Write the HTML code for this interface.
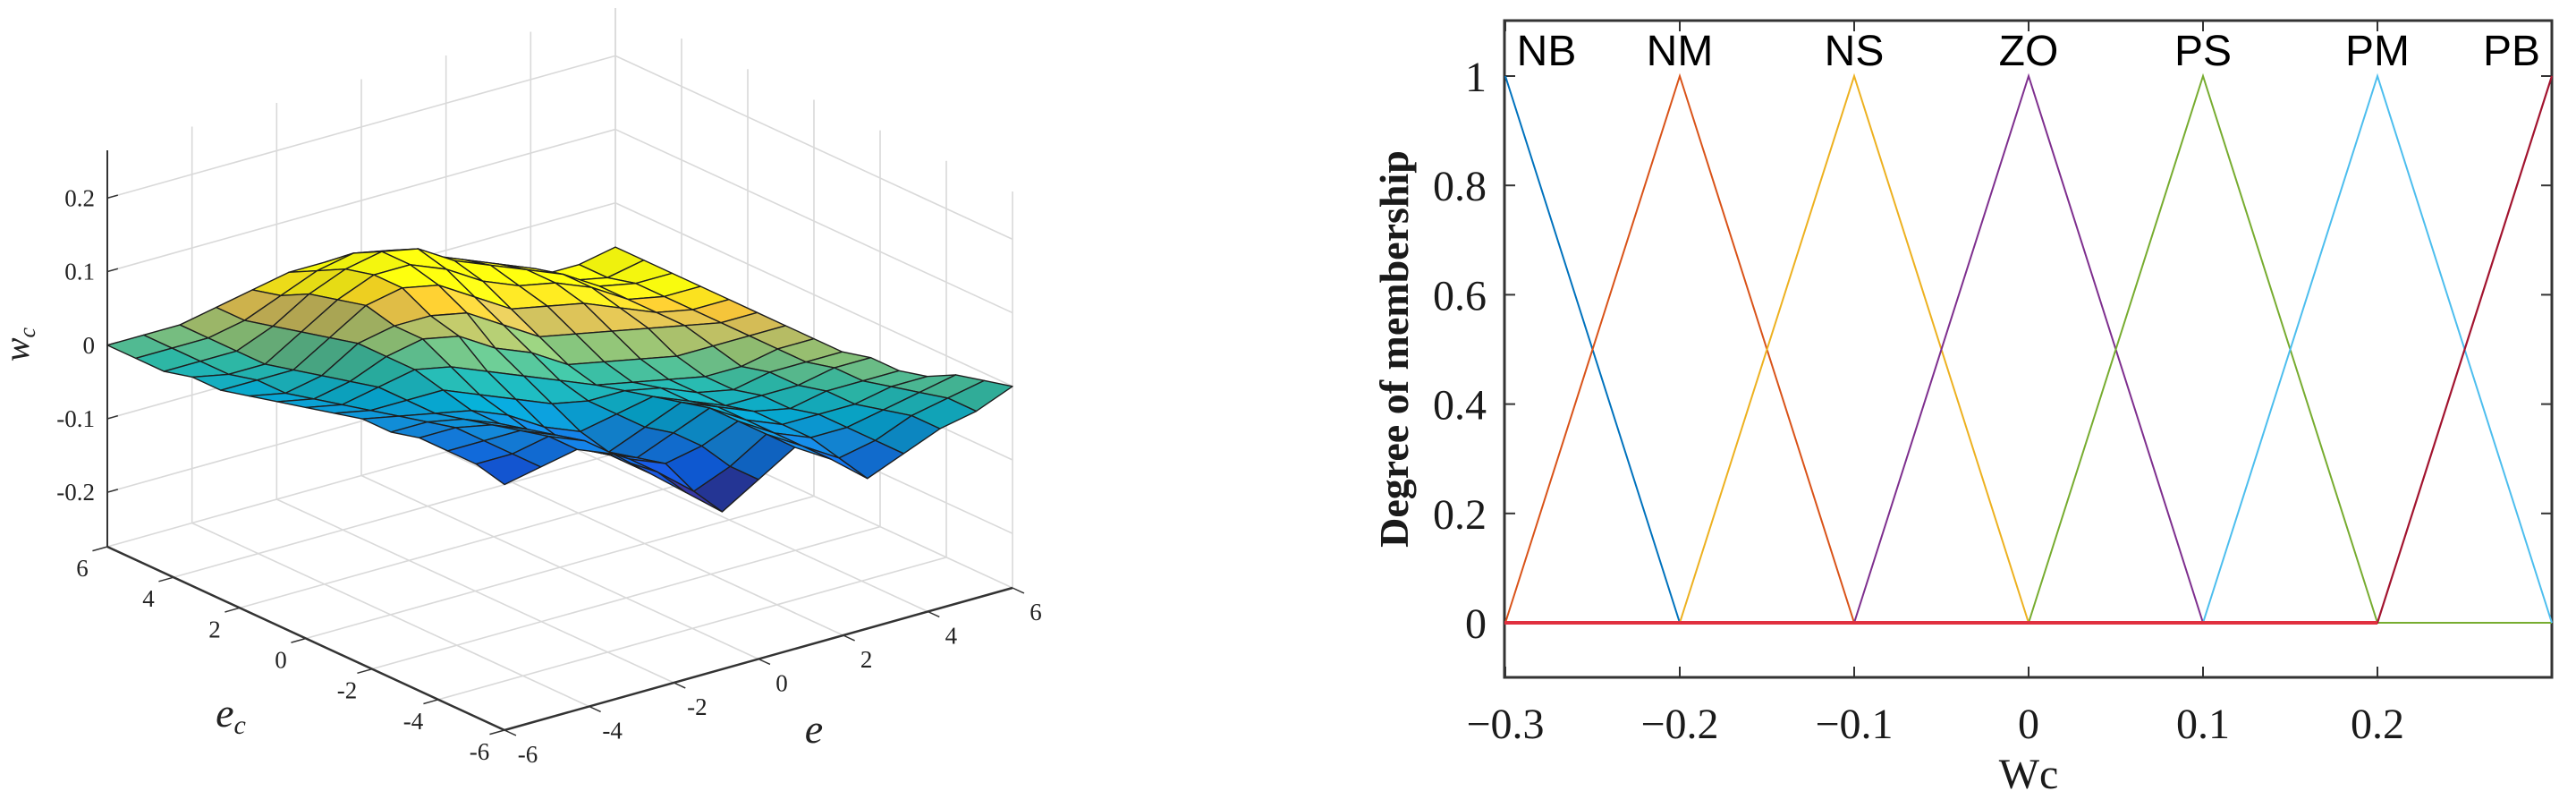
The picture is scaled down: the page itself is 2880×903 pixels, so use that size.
<!DOCTYPE html>
<html><head><meta charset="utf-8"><style>
html,body{margin:0;padding:0;background:#fff;}
svg{display:block;}
</style></head><body>
<svg id="root" width="2880" height="903" viewBox="0 0 2880 903" xmlns="http://www.w3.org/2000/svg">
<g id="surf3d"></g>
<g id="mf"></g>
</svg>
<script>
// ---------- 3D surface data ----------
const eTicks = [-6,-4,-2,0,2,4,6];
const ecTicks = [-6,-4,-2,0,2,4,6];
const zTicks = [-0.2,-0.1,0,0.1,0.2];
const zTickLabels = ["-0.2","-0.1","0","0.1","0.2"];
// rows: ec index 0 (ec=-6) .. 14 (ec=6); columns: e index 0 (e=-6) .. 14 (e=6)
const zRows = [
[0.06,0.07,0.08,0.06,0.02,-0.02,-0.06,-0.03,0.00,-0.03,-0.07,-0.05,-0.03,-0.02,0.00],
[0.07,0.07,0.08,0.06,0.02,-0.01,-0.05,-0.03,0.00,-0.03,-0.06,-0.05,-0.03,-0.02,-0.01],
[0.07,0.07,0.07,0.05,0.02,-0.01,-0.03,-0.02,0.00,-0.03,-0.05,-0.05,-0.04,-0.03,-0.02],
[0.07,0.07,0.06,0.04,0.01,-0.02,-0.04,-0.02,0.00,-0.03,-0.05,-0.05,-0.05,-0.04,-0.04],
[0.06,0.06,0.05,0.03,0.00,-0.03,-0.05,-0.03,-0.01,-0.03,-0.05,-0.06,-0.05,-0.05,-0.05],
[0.06,0.05,0.04,0.03,0.01,-0.02,-0.04,-0.03,-0.02,-0.04,-0.06,-0.06,-0.06,-0.05,-0.05],
[0.05,0.04,0.04,0.04,0.02,0.00,-0.02,-0.03,-0.03,-0.04,-0.06,-0.07,-0.06,-0.06,-0.06],
[0.04,0.03,0.04,0.05,0.04,0.02,0.00,-0.02,-0.04,-0.05,-0.06,-0.07,-0.07,-0.06,-0.06],
[0.03,0.02,0.03,0.05,0.06,0.05,0.02,0.00,-0.03,-0.04,-0.05,-0.06,-0.06,-0.06,-0.06],
[0.02,0.01,0.02,0.05,0.06,0.06,0.05,0.02,-0.01,-0.02,-0.03,-0.04,-0.05,-0.06,-0.06],
[0.01,0.01,0.01,0.04,0.07,0.08,0.07,0.04,0.01,0.00,-0.01,-0.03,-0.05,-0.06,-0.06],
[0.01,0.00,0.00,0.03,0.06,0.08,0.08,0.06,0.03,0.01,0.00,-0.02,-0.05,-0.06,-0.06],
[0.00,0.00,0.00,0.02,0.05,0.07,0.08,0.07,0.04,0.02,0.00,-0.02,-0.05,-0.06,-0.06],
[0.00,0.00,0.00,0.01,0.03,0.05,0.06,0.05,0.03,0.01,-0.01,-0.03,-0.06,-0.07,-0.06],
[0.00,0.00,0.00,0.01,0.02,0.03,0.03,0.02,0.01,-0.01,-0.03,-0.05,-0.07,-0.07,-0.06]
];
// ---------- membership data ----------
const mfNames = ["NB","NM","NS","ZO","PS","PM","PB"];
const mfCenters = [-0.3,-0.2,-0.1,0,0.1,0.2,0.3];
const mfWidth = 0.1;
const mfColors = ["#0072BD","#D95319","#EDB120","#7E2F8E","#77AC30","#4DBEEE","#A2142F"];
const xTickVals = [-0.3,-0.2,-0.1,0,0.1,0.2];
const xTickLabels = ["\u22120.3","\u22120.2","\u22120.1","0","0.1","0.2"];
const yTickVals = [0,0.2,0.4,0.6,0.8,1];
const yTickLabels = ["0","0.2","0.4","0.6","0.8","1"];

const NS="http://www.w3.org/2000/svg";
function mk(tag, attrs, parent){const el=document.createElementNS(NS,tag);for(const k in attrs)el.setAttribute(k,attrs[k]);parent.appendChild(el);return el;}

// ---------- 3D projection ----------
const F0=[564,816], ZF=-0.274, ZT=0.265, ZS=822;
const dE=[(1132-564)/12,(657-816)/12], dC=[(120-564)/12,(611-816)/12];
function P(e,ec,z){return [F0[0]+(e+6)*dE[0]+(ec+6)*dC[0], F0[1]+(e+6)*dE[1]+(ec+6)*dC[1]-(z-ZF)*ZS];}
function line3(g,a,b,col,w,name){const p=P(...a),q=P(...b);
 const l=mk('line',{x1:p[0],y1:p[1],x2:q[0],y2:q[1],stroke:col,'stroke-width':w},g);
 
 }
const g3=document.getElementById('surf3d');
const grid='#d9d9d9';
eTicks.forEach(e=>{line3(g3,[e,6,ZF],[e,6,ZT],grid,1.6,'wall-gridline');line3(g3,[e,-6,ZF],[e,6,ZF],grid,1.6,'floor-gridline');});
ecTicks.forEach(c=>{line3(g3,[6,c,ZF],[6,c,ZT],grid,1.6,'wall-gridline');line3(g3,[-6,c,ZF],[6,c,ZF],grid,1.6,'floor-gridline');});
zTicks.forEach(z=>{line3(g3,[-6,6,z],[6,6,z],grid,1.6,'wall-gridline');line3(g3,[6,6,z],[6,-6,z],grid,1.6,'wall-gridline');});
line3(g3,[-6,6,ZF],[-6,6,ZT],'#333',2,'z-axis-line');
line3(g3,[-6,6,ZF],[-6,-6,ZF],'#333',2.5,'ec-axis-line');
line3(g3,[-6,-6,ZF],[6,-6,ZF],'#333',2.5,'e-axis-line');
function txt(g,x,y,s,attrs,name){const t=mk('text',Object.assign({x:x,y:y},attrs),g);t.textContent=s;
 
 return t;}
const tf={'font-family':'"Liberation Serif",serif','font-size':27,fill:'#222'};
zTicks.forEach((z,k)=>{const p=P(-6,6,z);line3(g3,[-6,6,z],[-5.75,6,z],'#333',1.5,'z-tick');
 txt(g3,p[0]-14,p[1]+9,zTickLabels[k],Object.assign({'text-anchor':'end'},tf),'z-tick-label');});
ecTicks.forEach(c=>{const p=P(-6,c,ZF);line3(g3,[-6,c,ZF],[-6.35,c,ZF],'#333',1.5,'ec-tick');
 txt(g3,p[0]-28,p[1]+33,String(c),Object.assign({'text-anchor':'middle'},tf),'ec-tick-label');});
eTicks.forEach(e=>{const p=P(e,-6,ZF);line3(g3,[e,-6,ZF],[e,-6.35,ZF],'#333',1.5,'e-tick');
 txt(g3,p[0]+26,p[1]+36,String(e),Object.assign({'text-anchor':'middle'},tf),'e-tick-label');});
const it={'font-family':'"Liberation Serif",serif','font-style':'italic','font-size':46,fill:'#222','text-anchor':'middle'};
const ecT=txt(g3,258,812,'e',it,'ec-axis-title');const sub=mk('tspan',{'font-size':30,dy:8},ecT);sub.textContent='c';
txt(g3,910,830,'e',it,'e-axis-title');
const wT=txt(g3,0,0,'w',Object.assign({},it,{'font-size':40,transform:'translate(32,385) rotate(-90)'}),'z-axis-title');
const ws=mk('tspan',{'font-size':26,dy:7},wT);ws.textContent='c';
const par=[[0,[53,42,135]],[0.14,[15,92,221]],[0.28,[20,129,214]],[0.42,[6,164,202]],[0.56,[46,183,164]],[0.7,[135,191,119]],[0.84,[209,187,89]],[0.92,[254,200,50]],[1,[249,251,14]]];
function cmap(t,s){t=Math.max(0,Math.min(1,t));let c=[249,251,14];for(let k=1;k<par.length;k++){if(t<=par[k][0]){const a=par[k-1],b=par[k],f=(t-a[0])/(b[0]-a[0]);c=a[1].map((v,m)=>v+(b[1][m]-v)*f);break;}}
 return 'rgb('+c.map(v=>Math.round(Math.max(0,Math.min(255,v*s)))).join(',')+')';}
const N=zRows.length, gv=i=>-6+i*12/(N-1);
const cells=[];
for(let j=0;j<N-1;j++)for(let i=0;i<N-1;i++)cells.push([i,j]);
cells.sort((a,b)=>(b[0]+b[1])-(a[0]+a[1]));
const sg=mk('g',{},g3);


cells.forEach(([i,j])=>{
 const pts=[[i,j],[i+1,j],[i+1,j+1],[i,j+1]];
 let zs=0;const sp=pts.map(([a,b])=>{zs+=zRows[b][a];return P(gv(a),gv(b),zRows[b][a]).join(',');});
 const zm=zs/4, cv=zm+0.015*(i+j+1-14);
 const slope=(zRows[j][i]+zRows[j+1][i])-(zRows[j][i+1]+zRows[j+1][i+1]);
 const shade=1+Math.max(-0.12,Math.min(0.12,slope*2));
 const poly=mk('polygon',{points:sp.join(' '),fill:cmap((cv+0.16)/0.26,shade),stroke:'#1e1e1e','stroke-width':1.4,'stroke-linejoin':'round'},sg);
 
 
});

// ---------- membership plot ----------
const gm=document.getElementById('mf');
const X0=1682,X1=2853,Y0=23,Y1=757;
const xs=v=>2268+v*1950, ys=m=>696-m*611;
const box=mk('rect',{x:X0,y:Y0,width:X1-X0,height:Y1-Y0,fill:'none',stroke:'#333','stroke-width':3},gm);


const sf={'font-family':'"Liberation Serif",serif','font-size':48,fill:'#1a1a1a'};
xTickVals.forEach((v,k)=>{const x=xs(v);
 const t1=mk('line',{x1:x,y1:Y1,x2:x,y2:Y1-12,stroke:'#333','stroke-width':2},gm);
 
 
 const t2=mk('line',{x1:x,y1:Y0,x2:x,y2:Y0+12,stroke:'#333','stroke-width':2},gm);
 
 
 txt(gm,x,825,xTickLabels[k],Object.assign({'text-anchor':'middle'},sf),'x-tick-label');});
yTickVals.forEach((v,k)=>{const y=ys(v);
 const t1=mk('line',{x1:X0,y1:y,x2:X0+12,y2:y,stroke:'#333','stroke-width':2},gm);
 
 
 const t2=mk('line',{x1:X1,y1:y,x2:X1-12,y2:y,stroke:'#333','stroke-width':2},gm);
 
 
 txt(gm,1662,y+17,yTickLabels[k],Object.assign({'text-anchor':'end'},sf),'y-tick-label');});
txt(gm,2268,881,'Wc',Object.assign({'text-anchor':'middle'},sf),'x-axis-title');
txt(gm,0,0,'Degree of membership',Object.assign({'text-anchor':'middle','font-weight':'bold',transform:'translate(1574,390) rotate(-90)'},sf,{'font-size':46}),'y-axis-title');
const xmin=-0.3,xmax=0.3;
mfCenters.forEach((c,k)=>{
 const pts=[];const l=c-mfWidth,r=c+mfWidth;
 pts.push([xmin,Math.max(0,1-Math.abs(xmin-c)/mfWidth)]);
 if(l>xmin)pts.push([l,0]);
 pts.push([c,1]);
 if(r<xmax)pts.push([r,0]);
 pts.push([xmax,Math.max(0,1-Math.abs(xmax-c)/mfWidth)]);
 const pl=mk('polyline',{points:pts.map(p=>xs(p[0])+','+ys(p[1])).join(' '),fill:'none',stroke:mfColors[k],'stroke-width':k===6?2.2:2},gm);
 
 
});
const zl=mk('line',{x1:X0,y1:ys(0),x2:xs(0.2),y2:ys(0),stroke:'#e0303f','stroke-width':4},gm);


const lf={'font-family':'"Liberation Sans",sans-serif','font-size':48,fill:'#000','text-anchor':'middle'};
mfNames.forEach((n,k)=>{let x=xs(mfCenters[k]);if(k===0)x=1729;if(k===6)x=2808;
 txt(gm,x,73,n,lf,'mf-label-'+n.toLowerCase());});
</script>
</body></html>
